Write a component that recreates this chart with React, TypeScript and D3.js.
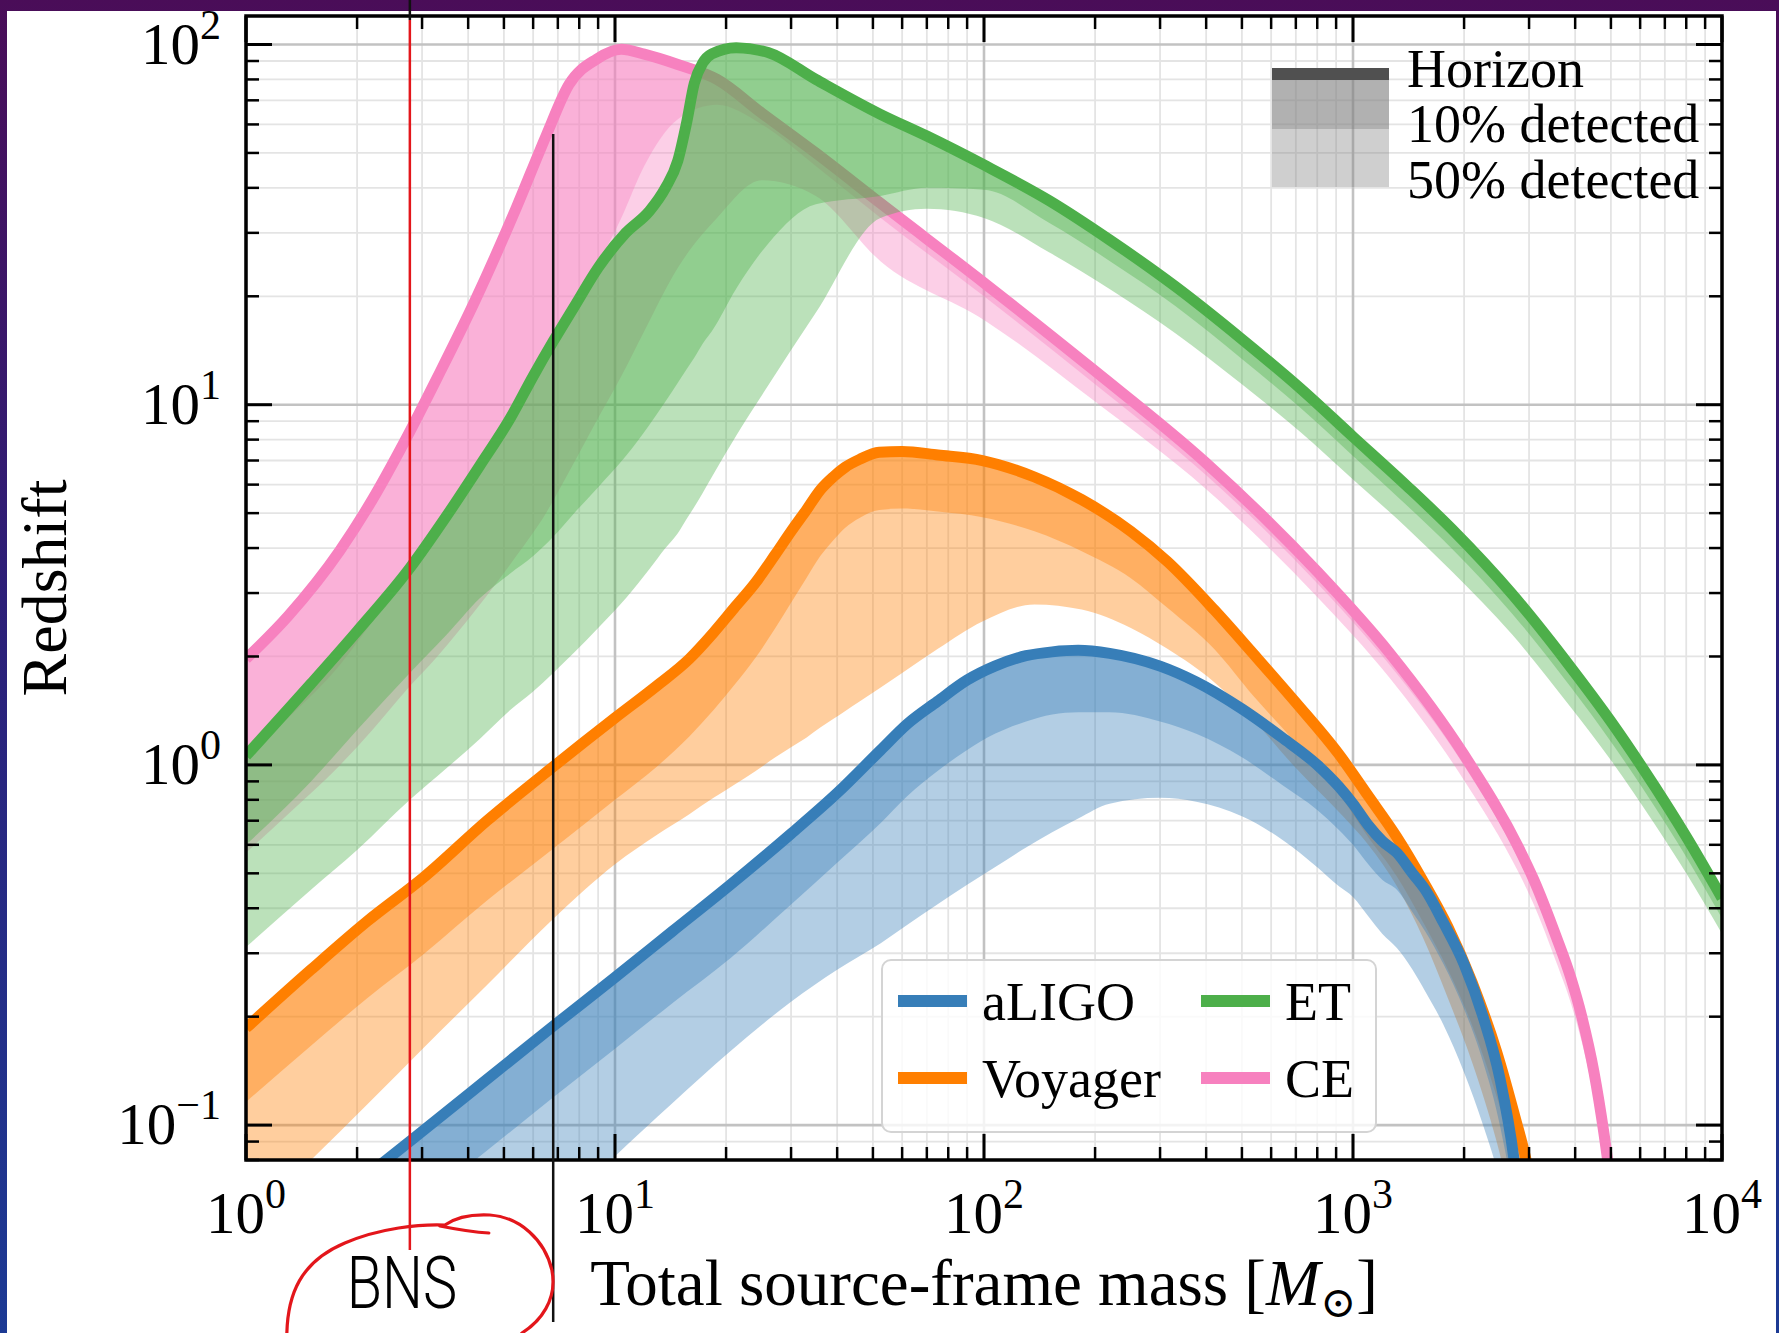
import React, { useEffect } from "react";
import * as d3 from "d3";

const WIDTH = 1779;
const HEIGHT = 1333;
const PLOT = { left: 246, right: 1722, top: 16, bottom: 1160 };

const MASS_DOMAIN: [number, number] = [1, 1e4];
const Z_DOMAIN: [number, number] = [0.08, 120];

const X_MAJOR = [1, 10, 100, 1000, 10000];
const X_MAJOR_EXP = ["0", "1", "2", "3", "4"];
const Y_MAJOR = [0.1, 1, 10, 100];
const Y_MAJOR_EXP = ["\u22121", "0", "1", "2"];

// aLIGO: total source-frame mass and redshift reach
const aligoMass = [1, 1.5, 2.4, 3, 4.5, 6.7, 10, 14.3, 20.5, 30, 40, 52.5, 62, 74.7, 90, 107, 130, 153, 180, 219, 300, 376, 500, 643, 800, 916, 1000, 1100, 1200, 1315, 1450, 1570, 1758, 2000, 2251, 2500, 2728, 2850];
const aligoHorizon = [0.038, 0.055, 0.08, 0.096, 0.134, 0.186, 0.257, 0.345, 0.464, 0.644, 0.835, 1.1, 1.3, 1.5, 1.72, 1.88, 2.01, 2.06, 2.08, 2.04, 1.88, 1.7, 1.43, 1.19, 1.0, 0.87, 0.78, 0.68, 0.615, 0.57, 0.5, 0.45, 0.365, 0.28, 0.2, 0.135, 0.081, 0.055];
const aligo10 = [0.025, 0.035, 0.051, 0.061, 0.085, 0.118, 0.163, 0.218, 0.29, 0.41, 0.535, 0.69, 0.82, 0.96, 1.1, 1.22, 1.32, 1.38, 1.4, 1.4, 1.32, 1.22, 1.05, 0.88, 0.75, 0.66, 0.6, 0.53, 0.48, 0.45, 0.39, 0.345, 0.28, 0.21, 0.15, 0.1, 0.06, 0.04];
const aligo50 = [0.0095, 0.014, 0.021, 0.026, 0.038, 0.055, 0.082, 0.115, 0.16, 0.22, 0.27, 0.32, 0.36, 0.41, 0.465, 0.52, 0.59, 0.65, 0.71, 0.78, 0.81, 0.79, 0.72, 0.62, 0.52, 0.46, 0.43, 0.38, 0.34, 0.31, 0.27, 0.235, 0.19, 0.14, 0.1, 0.07, 0.045, 0.035];

// Voyager
const voyagerMass = [1, 1.5, 2.13, 3.05, 4.5, 6.73, 10, 13, 15.9, 18.5, 21, 24, 27.2, 30, 33, 36, 39, 42, 46, 52, 60, 75, 99, 137, 184, 250, 314, 420, 538, 700, 916, 1100, 1315, 1550, 1808, 2100, 2450, 2750, 2944, 3100];
const voyagerHorizon = [0.186, 0.27, 0.368, 0.49, 0.7, 0.98, 1.35, 1.66, 1.97, 2.33, 2.72, 3.2, 3.84, 4.45, 5.1, 5.8, 6.3, 6.7, 7.05, 7.38, 7.42, 7.25, 7.0, 6.3, 5.45, 4.45, 3.67, 2.7, 2.03, 1.49, 1.07, 0.82, 0.63, 0.475, 0.355, 0.25, 0.16, 0.105, 0.08, 0.06];
const voyager10 = [0.116, 0.166, 0.225, 0.3, 0.42, 0.58, 0.8, 0.99, 1.2, 1.42, 1.66, 1.98, 2.4, 2.82, 3.3, 3.8, 4.2, 4.55, 4.85, 5.1, 5.15, 5.05, 4.87, 4.45, 3.92, 3.3, 2.73, 2.1, 1.55, 1.15, 0.83, 0.63, 0.49, 0.365, 0.27, 0.19, 0.12, 0.08, 0.06, 0.045];
const voyager50 = [0.054, 0.08, 0.114, 0.165, 0.245, 0.37, 0.53, 0.64, 0.73, 0.81, 0.88, 0.96, 1.05, 1.12, 1.19, 1.27, 1.34, 1.41, 1.5, 1.63, 1.8, 2.1, 2.5, 2.79, 2.7, 2.4, 2.1, 1.7, 1.33, 0.98, 0.74, 0.6, 0.46, 0.33, 0.225, 0.15, 0.09, 0.055, 0.04, 0.03];

// Einstein Telescope
const etMass = [1, 1.5, 2, 2.78, 3.5, 4.3, 5.2, 6, 6.8, 7.75, 9, 10.7, 12.4, 13.7, 14.8, 15.6, 16.4, 17.3, 18.3, 21.3, 26, 35, 52.4, 70, 100, 150, 220, 330, 500, 720, 1000, 1400, 1860, 2700, 3900, 5000, 6600, 8000, 10000];
const etHorizon = [1.06, 1.68, 2.35, 3.52, 4.92, 6.77, 9.17, 12.0, 15.0, 18.7, 24.0, 30.0, 34.5, 40, 47.6, 60, 78, 89, 94.2, 98, 95, 80, 64, 55.7, 46.3, 36.9, 28.6, 21.3, 15.2, 11.1, 8.15, 5.95, 4.5, 2.98, 1.86, 1.32, 0.865, 0.632, 0.427];
const et10 = [0.6, 0.9, 1.25, 1.8, 2.3, 2.9, 3.4, 3.8, 4.3, 5.0, 5.9, 7.2, 8.8, 10.2, 11.5, 12.5, 13.5, 14.8, 16, 21, 28, 36, 38, 40, 39.5, 32, 25, 18.8, 13.4, 9.8, 7.2, 5.25, 3.97, 2.63, 1.64, 1.16, 0.76, 0.555, 0.375];
const et50 = [0.312, 0.45, 0.58, 0.8, 0.98, 1.18, 1.42, 1.6, 1.8, 2.05, 2.4, 2.9, 3.5, 4.0, 4.4, 4.8, 5.2, 5.7, 6.3, 8.2, 11.3, 18, 33, 35, 33, 26.5, 20.9, 15.8, 11.4, 8.4, 6.2, 4.55, 3.43, 2.3, 1.44, 1.03, 0.68, 0.5, 0.34];

// Cosmic Explorer
const ceMass = [1, 1.3, 1.8, 2.2, 2.7, 3.3, 4.2, 5.4, 6.5, 7.5, 8.9, 10.4, 12, 14.8, 18.9, 25, 35, 52.5, 100, 200, 398, 794, 1259, 1995, 2818, 3090, 3548, 3900, 4169, 4500, 4786, 5100];
const ceHorizon = [1.97, 2.59, 3.95, 5.45, 7.96, 11.9, 19.7, 35.2, 55.7, 77.4, 91, 97, 94, 88, 80, 64.5, 50, 36.2, 21.8, 12.4, 6.92, 3.47, 2.04, 1.07, 0.586, 0.48, 0.335, 0.255, 0.2, 0.14, 0.095, 0.058];
const ce10 = [1.06, 1.35, 1.9, 2.5, 3.3, 4.4, 6.2, 9.5, 13, 17, 24, 33, 46, 62, 68, 60, 46, 33, 20, 11.4, 6.4, 3.22, 1.89, 1.0, 0.545, 0.445, 0.31, 0.237, 0.186, 0.13, 0.088, 0.054];
const ce50 = [0.57, 0.73, 1.0, 1.25, 1.6, 2.0, 2.7, 3.8, 5.0, 6.5, 9.0, 12, 16, 24, 33, 42, 38, 25, 17.2, 10.2, 5.85, 2.95, 1.74, 0.91, 0.5, 0.41, 0.285, 0.217, 0.17, 0.119, 0.081, 0.049];

const DETECTOR_NAMES = ["aLIGO", "Voyager", "ET", "CE"];
const DETECTOR_COLORS = ["#377eb8", "#ff7f00", "#4daf4a", "#f781bf"];

const LEVEL_LABELS = ["Horizon", "10% detected", "50% detected"];

// Reference masses marked on the axis
const BNS_MASS = 2.78;
const MARK_MASS = 6.8;

const SERIF = "'Liberation Serif', 'DejaVu Serif', 'Times New Roman', serif";
const BAND_OPACITY = 0.38;
const LINE_WIDTH = 11;

export default function App() {
  useEffect(() => {
    document.body.style.margin = "0";
  }, []);

  const x = d3.scaleLog().domain(MASS_DOMAIN).range([PLOT.left, PLOT.right]);
  const y = d3.scaleLog().domain(Z_DOMAIN).range([PLOT.bottom, PLOT.top]);

  const detectors = [
    { name: DETECTOR_NAMES[0], color: DETECTOR_COLORS[0], mass: aligoMass, hor: aligoHorizon, p10: aligo10, p50: aligo50 },
    { name: DETECTOR_NAMES[1], color: DETECTOR_COLORS[1], mass: voyagerMass, hor: voyagerHorizon, p10: voyager10, p50: voyager50 },
    { name: DETECTOR_NAMES[2], color: DETECTOR_COLORS[2], mass: etMass, hor: etHorizon, p10: et10, p50: et50 },
    { name: DETECTOR_NAMES[3], color: DETECTOR_COLORS[3], mass: ceMass, hor: ceHorizon, p10: ce10, p50: ce50 },
  ];
  // painting order: Voyager, aLIGO, CE, ET
  const drawOrder = [detectors[1], detectors[0], detectors[3], detectors[2]];

  const linePath = (m: number[], z: number[]) =>
    d3
      .line<number>()
      .x((i) => x(m[i]))
      .y((i) => y(z[i]))
      .curve(d3.curveMonotoneX)(d3.range(m.length)) || "";

  const bandPath = (m: number[], lo: number[], hi: number[]) =>
    d3
      .area<number>()
      .x((i) => x(m[i]))
      .y0((i) => y(lo[i]))
      .y1((i) => y(hi[i]))
      .curve(d3.curveMonotoneX)(d3.range(m.length)) || "";

  const xMinor: number[] = [];
  for (let e = 0; e < 4; e++) for (let k = 2; k <= 9; k++) xMinor.push(k * Math.pow(10, e));
  const yMinor: number[] = [];
  for (let e = -2; e <= 1; e++)
    for (let k = 2; k <= 9; k++) {
      const v = k * Math.pow(10, e);
      if (v >= Z_DOMAIN[0] && v <= Z_DOMAIN[1]) yMinor.push(v);
    }

  const MAJOR_LEN = 26;
  const MINOR_LEN = 13;

  const bx = x(BNS_MASS);
  const mx = x(MARK_MASS);

  // top-right level legend geometry
  const lvl = { x0: 1272, x1: 1389, top: 68, mid: 129, bottom: 187, textX: 1407 };
  const lvlBaselines = [87, 142, 198];

  // detector legend geometry
  const leg = { x: 882, y: 960, w: 494, h: 172 };
  const legRows = [1001, 1078];
  const legCols = [898, 1201];
  const legendOrder = [
    [detectors[0], detectors[1]],
    [detectors[2], detectors[3]],
  ];

  return (
    <svg
      width={WIDTH}
      height={HEIGHT}
      viewBox={`0 0 ${WIDTH} ${HEIGHT}`}
      style={{ position: "absolute", left: 0, top: 0, display: "block" }}
    >
      <defs>
        <linearGradient id="slideBg" x1="0" y1="0" x2="0" y2="1">
          <stop offset="0" stopColor="#4a0d58" />
          <stop offset="0.45" stopColor="#2c1f78" />
          <stop offset="1" stopColor="#1c3a94" />
        </linearGradient>
        <clipPath id="plotClip">
          <rect x={PLOT.left} y={PLOT.top} width={PLOT.right - PLOT.left} height={PLOT.bottom - PLOT.top} />
        </clipPath>
      </defs>

      {/* slide background and figure canvas */}
      <rect x={0} y={0} width={WIDTH} height={HEIGHT} fill="url(#slideBg)" />
      <rect x={7} y={11} width={1769} height={HEIGHT - 11} fill="#ffffff" />

      {/* grid */}
      <g>
        {xMinor.map((v) => (
          <line key={"gxm" + v} x1={x(v)} x2={x(v)} y1={PLOT.top} y2={PLOT.bottom} stroke="#e4e4e4" strokeWidth={1.8} />
        ))}
        {yMinor.map((v) => (
          <line key={"gym" + v} y1={y(v)} y2={y(v)} x1={PLOT.left} x2={PLOT.right} stroke="#e4e4e4" strokeWidth={1.8} />
        ))}
        {X_MAJOR.map((v) => (
          <line key={"gx" + v} x1={x(v)} x2={x(v)} y1={PLOT.top} y2={PLOT.bottom} stroke="#c2c2c2" strokeWidth={2.6} />
        ))}
        {Y_MAJOR.map((v) => (
          <line key={"gy" + v} y1={y(v)} y2={y(v)} x1={PLOT.left} x2={PLOT.right} stroke="#c2c2c2" strokeWidth={2.6} />
        ))}
      </g>

      {/* detection bands and horizon curves */}
      <g clipPath="url(#plotClip)">
        {drawOrder.map((d) => (
          <g key={d.name}>
            <path d={bandPath(d.mass, d.p50, d.hor)} fill={d.color} fillOpacity={BAND_OPACITY} stroke="none" />
            <path d={bandPath(d.mass, d.p10, d.hor)} fill={d.color} fillOpacity={BAND_OPACITY} stroke="none" />
            <path d={linePath(d.mass, d.hor)} fill="none" stroke={d.color} strokeWidth={LINE_WIDTH} strokeLinejoin="round" />
          </g>
        ))}
      </g>

      {/* level legend */}
      <g>
        <rect x={lvl.x0} y={lvl.top} width={lvl.x1 - lvl.x0} height={lvl.bottom - lvl.top} fill="#808080" fillOpacity={BAND_OPACITY} />
        <rect x={lvl.x0} y={lvl.top} width={lvl.x1 - lvl.x0} height={lvl.mid - lvl.top} fill="#808080" fillOpacity={BAND_OPACITY} />
        <line x1={lvl.x0} x2={lvl.x1} y1={lvl.top + 6} y2={lvl.top + 6} stroke="#505050" strokeWidth={12} />
        {LEVEL_LABELS.map((t, i) => (
          <text key={t} x={lvl.textX} y={lvlBaselines[i]} fontFamily={SERIF} fontSize={54} fill="#000">
            {t}
          </text>
        ))}
      </g>

      {/* detector legend */}
      <g>
        <rect x={leg.x} y={leg.y} width={leg.w} height={leg.h} rx={9} ry={9} fill="#ffffff" fillOpacity={0.8} stroke="#d4d4d4" strokeWidth={2} />
        {legendOrder.map((col, ci) =>
          col.map((d, ri) => (
            <g key={d.name}>
              <line x1={legCols[ci]} x2={legCols[ci] + 69} y1={legRows[ri]} y2={legRows[ri]} stroke={d.color} strokeWidth={12} />
              <text x={legCols[ci] + 84} y={legRows[ri] + 19} fontFamily={SERIF} fontSize={54} fill="#000">
                {d.name}
              </text>
            </g>
          ))
        )}
      </g>

      {/* ticks on all four sides, pointing inward */}
      <g stroke="#000">
        {X_MAJOR.map((v) => (
          <g key={"tx" + v}>
            <line x1={x(v)} x2={x(v)} y1={PLOT.bottom} y2={PLOT.bottom - MAJOR_LEN} strokeWidth={3} />
            <line x1={x(v)} x2={x(v)} y1={PLOT.top} y2={PLOT.top + MAJOR_LEN} strokeWidth={3} />
          </g>
        ))}
        {xMinor.map((v) => (
          <g key={"txm" + v}>
            <line x1={x(v)} x2={x(v)} y1={PLOT.bottom} y2={PLOT.bottom - MINOR_LEN} strokeWidth={2.5} />
            <line x1={x(v)} x2={x(v)} y1={PLOT.top} y2={PLOT.top + MINOR_LEN} strokeWidth={2.5} />
          </g>
        ))}
        {Y_MAJOR.map((v) => (
          <g key={"ty" + v}>
            <line y1={y(v)} y2={y(v)} x1={PLOT.left} x2={PLOT.left + MAJOR_LEN} strokeWidth={3} />
            <line y1={y(v)} y2={y(v)} x1={PLOT.right} x2={PLOT.right - MAJOR_LEN} strokeWidth={3} />
          </g>
        ))}
        {yMinor.map((v) => (
          <g key={"tym" + v}>
            <line y1={y(v)} y2={y(v)} x1={PLOT.left} x2={PLOT.left + MINOR_LEN} strokeWidth={2.5} />
            <line y1={y(v)} y2={y(v)} x1={PLOT.right} x2={PLOT.right - MINOR_LEN} strokeWidth={2.5} />
          </g>
        ))}
      </g>

      {/* frame */}
      <rect x={PLOT.left} y={PLOT.top} width={PLOT.right - PLOT.left} height={PLOT.bottom - PLOT.top} fill="none" stroke="#000" strokeWidth={3.5} />

      {/* tick labels */}
      <g fontFamily={SERIF} fill="#000">
        {X_MAJOR.map((v, i) => (
          <text key={"lx" + v} x={x(v)} y={1233} textAnchor="middle" fontSize={59}>
            <tspan>10</tspan>
            <tspan fontSize={42} dy={-25}>{X_MAJOR_EXP[i]}</tspan>
          </text>
        ))}
        {Y_MAJOR.map((v, i) => (
          <text key={"ly" + v} x={221} y={y(v) + 19} textAnchor="end" fontSize={59}>
            <tspan>10</tspan>
            <tspan fontSize={42} dy={-25}>{Y_MAJOR_EXP[i]}</tspan>
          </text>
        ))}
      </g>

      {/* axis titles */}
      <text x={(PLOT.left + PLOT.right) / 2} y={1305} textAnchor="middle" fontFamily={SERIF} fontSize={65} fill="#000">
        <tspan>Total source-frame mass [</tspan>
        <tspan fontStyle="italic">M</tspan>
        <tspan fontSize={43} dy={12}>{"\u2299"}</tspan>
        <tspan dy={-12}>]</tspan>
      </text>
      <text
        transform={`translate(66, ${(PLOT.top + PLOT.bottom) / 2}) rotate(-90)`}
        textAnchor="middle"
        fontFamily={SERIF}
        fontSize={64}
        fill="#000"
      >
        Redshift
      </text>

      {/* hand annotations: BNS mass marker and a second reference mass */}
      <line x1={bx} x2={bx} y1={0} y2={20} stroke="#111" strokeWidth={2.5} />
      <line x1={bx} x2={bx} y1={20} y2={1250} stroke="#e3161b" strokeWidth={2.5} />
      <line x1={mx} x2={mx} y1={134} y2={1322} stroke="#111" strokeWidth={2.5} />
      <path
        d={`M ${bx - 123} 1333 C ${bx - 122} 1295, ${bx - 110} 1262, ${bx - 65} 1243 C ${bx - 30} 1228, ${bx + 10} 1224, ${bx + 35} 1225 C ${bx + 45} 1218, ${bx + 60} 1214, ${bx + 80} 1215 C ${bx + 110} 1217, ${bx + 135} 1240, ${bx + 142} 1270 C ${bx + 148} 1300, ${bx + 130} 1322, ${bx + 112} 1333`}
        fill="none"
        stroke="#e3161b"
        strokeWidth={3.2}
        strokeLinecap="round"
      />
      <path
        d={`M ${bx + 30} 1226 C ${bx + 45} 1229, ${bx + 60} 1232, ${bx + 79} 1233`}
        fill="none"
        stroke="#e3161b"
        strokeWidth={3.2}
        strokeLinecap="round"
      />
      <text
        transform={`translate(${bx - 8}, 1308) scale(0.8, 1)`}
        textAnchor="middle"
        fontFamily="Roboto, 'Noto Sans', sans-serif"
        fontWeight={300}
        fontSize={72}
        fill="#000"
      >
        BNS
      </text>
    </svg>
  );
}
